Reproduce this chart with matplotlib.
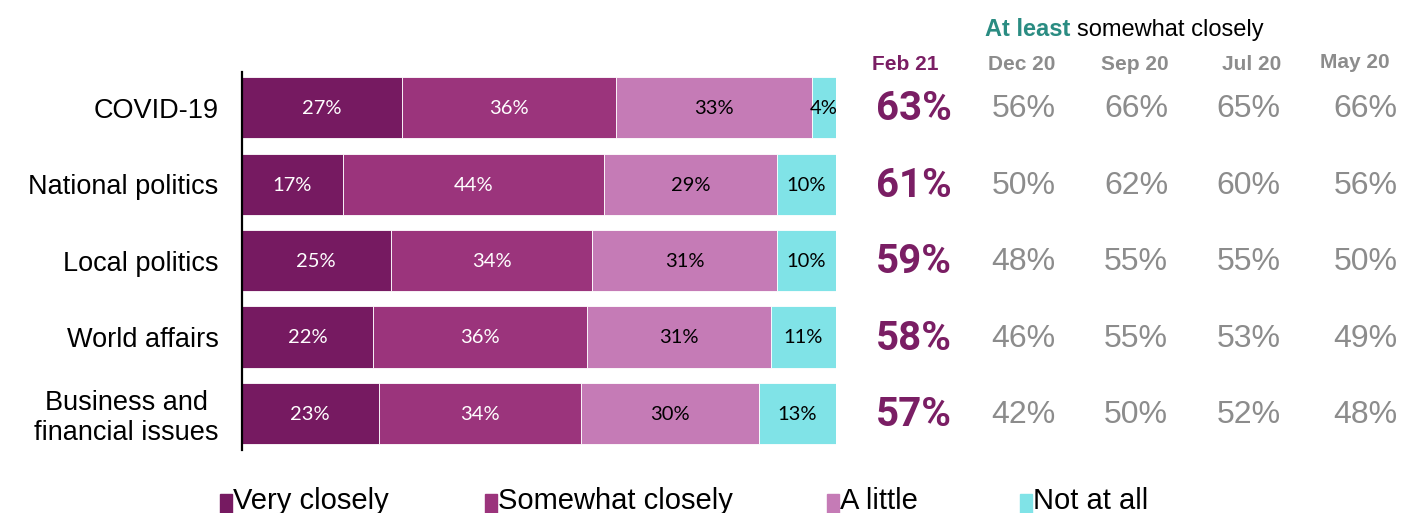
import matplotlib
matplotlib.use("Agg")
import matplotlib.pyplot as plt
from matplotlib.patches import Rectangle

# Survey topics and response shares (Feb 21)
topics = ["COVID-19", "National politics", "Local politics", "World affairs",
          "Business and\nfinancial issues"]
very_closely = [27, 17, 25, 22, 23]
somewhat_closely = [36, 44, 34, 36, 34]
a_little = [33, 29, 31, 31, 30]
not_at_all = [4, 10, 10, 11, 13]

# "At least somewhat closely" trend columns
waves = ["Feb 21", "Dec 20", "Sep 20", "Jul 20", "May 20"]
feb21 = [63, 61, 59, 58, 57]
dec20 = [56, 50, 48, 46, 42]
sep20 = [66, 62, 55, 55, 50]
jul20 = [65, 60, 55, 53, 52]
may20 = [66, 56, 50, 49, 48]

series_names = ["Very closely", "Somewhat closely", "A little", "Not at all"]
colors = ["#761A61", "#9B347C", "#C57BB6", "#80E3E7"]
label_colors = ["white", "white", "black", "black"]

W, H = 1401, 513
fig = plt.figure(figsize=(W / 100, H / 100), dpi=100)
ax = fig.add_axes([242 / W, 1 - 450 / H, 594 / W, 378 / H])

series = [very_closely, somewhat_closely, a_little, not_at_all]
y = list(range(len(topics)))
left = [0] * len(topics)
for vals, col, lcol in zip(series, colors, label_colors):
    bars = ax.barh(y, vals, left=left, height=0.8, color=col,
                   edgecolor="white", linewidth=0.6)
    for b, v in zip(bars, vals):
        cx = b.get_x() + b.get_width() / 2
        ax.text(cx, b.get_y() + b.get_height() / 2 + 0.01, f"{v}%",
                ha="center", va="center", color=lcol, fontsize=14.5,
                family="Lato")
    left = [l + v for l, v in zip(left, vals)]

ax.set_xlim(0, 100)
ax.set_ylim(4.48, -0.47)
for s in ["top", "right", "bottom"]:
    ax.spines[s].set_visible(False)
ax.spines["left"].set_linewidth(1.6)
ax.set_xticks([])
ax.set_yticks(y)
ax.set_yticklabels(topics, fontsize=19.5, family="Liberation Sans",
                   linespacing=1.2)
ax.tick_params(axis="y", length=0, pad=17)
for t in ax.get_yticklabels():
    t.set_multialignment("center")

# Trend columns to the right of the bars
head_x = [111.6, 131.3, 150.3, 169.9, 187.4]
head_y = [-0.57, -0.57, -0.57, -0.57, -0.59]
col_x = [113.1, 131.6, 150.5, 169.5, 189.1]
trend = [feb21, dec20, sep20, jul20, may20]
for i, (wave, vals) in enumerate(zip(waves, trend)):
    hcol = "#7A1E64" if i == 0 else "#8C8C8C"
    ax.text(head_x[i], head_y[i], wave, ha="center", va="center",
            fontsize=15, fontweight="bold", color=hcol,
            family="Liberation Sans", clip_on=False)
    for yy, v in zip(y, vals):
        if i == 0:
            ax.text(col_x[i], yy + 0.02, f"{v}%", ha="center", va="center",
                    fontsize=29, fontweight="bold", color="#7A1E64",
                    family="Roboto", clip_on=False)
        else:
            ax.text(col_x[i], yy + 0.02, f"{v}%", ha="center", va="center",
                    fontsize=23, color="#8C8C8C", family="Liberation Sans",
                    clip_on=False)

fig.text(1070 / W, 1 - 30 / H, "At least", ha="right", va="center",
         fontsize=17, fontweight="bold", color="#2A8C82",
         family="Liberation Sans")
fig.text(1077 / W, 1 - 30 / H, "somewhat closely", ha="left", va="center",
         fontsize=17, color="black", family="Liberation Sans")

# Legend along the bottom edge
leg_x = [220, 485, 827, 1020]
for name, col, lx in zip(series_names, colors, leg_x):
    fig.patches.append(Rectangle((lx / W, 1 - 513 / H), 12 / W, 19 / H,
                                 transform=fig.transFigure, color=col))
    fig.text((lx + 13) / W, 1 - 509 / H, name, ha="left", va="baseline",
             fontsize=21, family="Liberation Sans", color="black")

fig.savefig("out.png", dpi=100)
